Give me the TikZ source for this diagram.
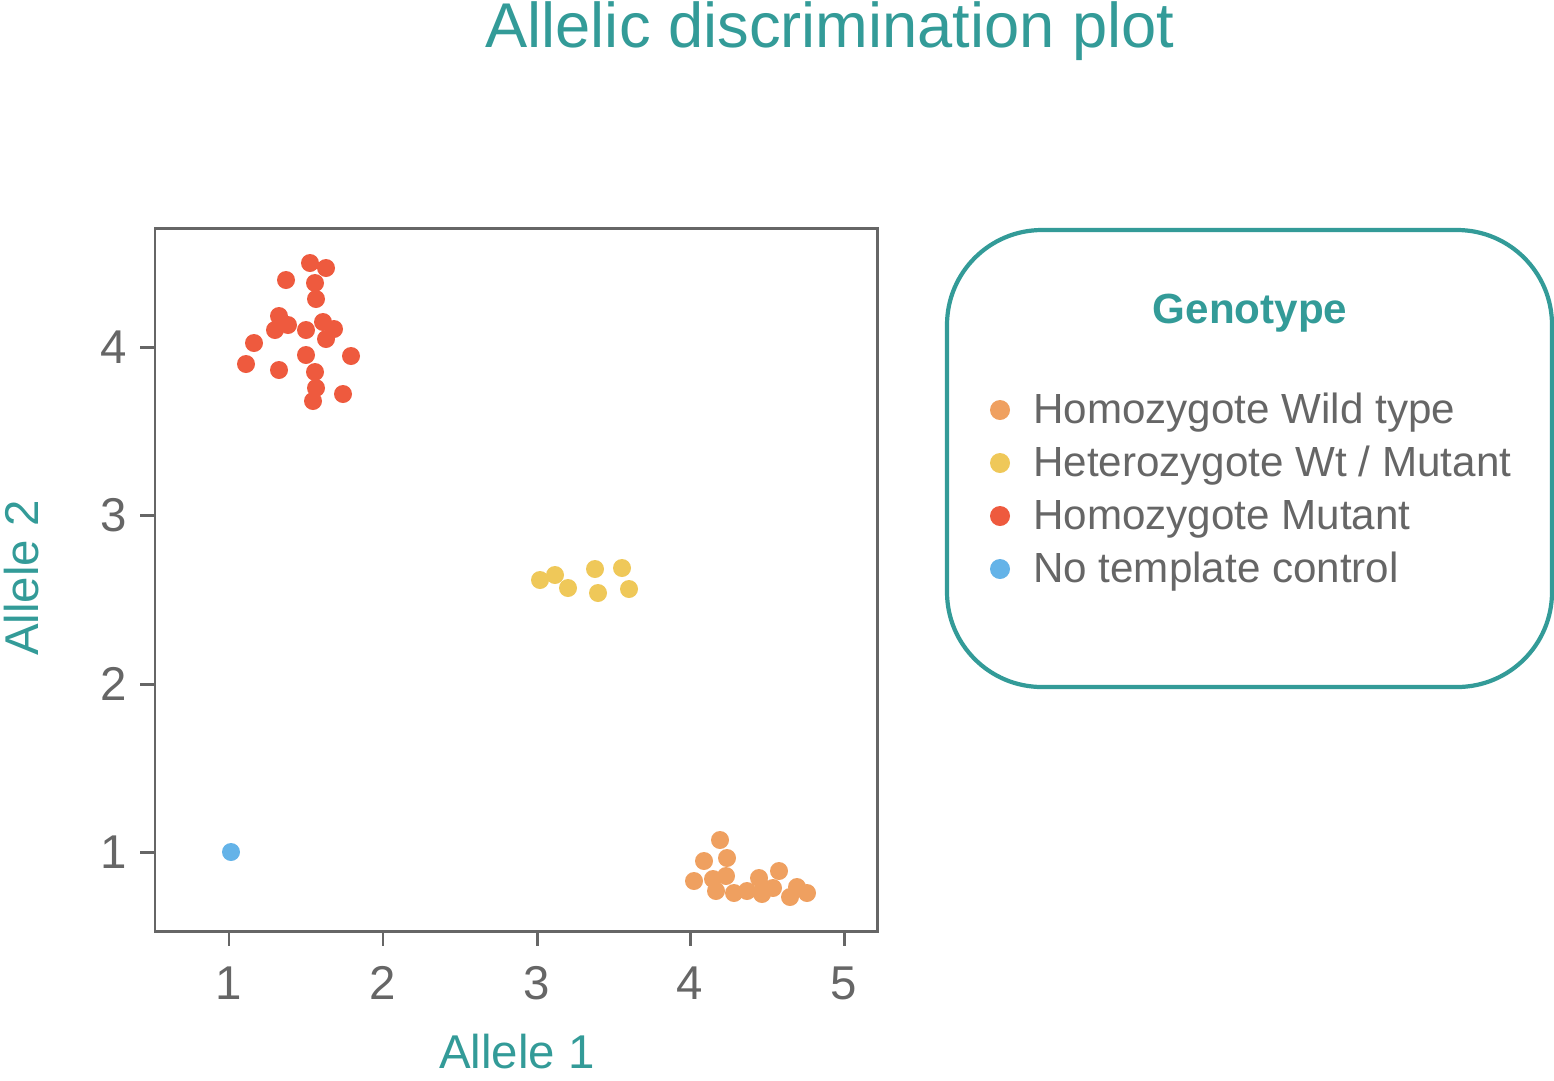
\documentclass[tikz,border=0pt]{standalone}
\usepackage{fontspec}
\setmainfont{Liberation Sans}
\definecolor{teal2}{HTML}{339B98}
\definecolor{gry}{HTML}{666666}
\definecolor{cred}{HTML}{EE5A3E}
\definecolor{cyel}{HTML}{EFC859}
\definecolor{corg}{HTML}{EFA060}
\definecolor{cblu}{HTML}{64B3E8}
\begin{document}
\begin{tikzpicture}[x=0.02cm,y=-0.02cm,
  dot/.style={circle,inner sep=0pt,minimum size=0.36cm},
  tick/.style={gry,line width=1.7pt},
  ticklab/.style={gry,font=\fontsize{27}{30}\selectfont},
  leg/.style={gry,font=\fontsize{24}{27}\selectfont,anchor=west}]
\useasboundingbox (0,0) rectangle (1554,1080);
\node[teal2,font=\fontsize{36}{40}\selectfont] (title) at (830,31) {Allelic discrimination plot};
\draw[gry,line width=1.7pt] (155,228) rectangle (877,931);
\foreach \x/\l in {229/1,383/2,537/3,690/4,844/5}{
  \draw[tick] (\x,931) -- (\x,946);
  \node[ticklab] (xl\l) at (\x,983) {\l};}
\foreach \y/\l in {347/4,515/3,684/2,852/1}{
  \draw[tick] (155,\y) -- (140,\y);
  \node[ticklab,anchor=east] (yl\l) at (133,\y) {\l};}
\node[teal2,font=\fontsize{27}{30}\selectfont] (xlab) at (517,1052) {Allele 1};
\node[teal2,font=\fontsize{27}{30}\selectfont,rotate=90] (ylab) at (22,578) {Allele 2};
\foreach \p in {(310,263),(326,268),(286,280),(315,283),(316,299),(279,316),(288,325),(275,330),(306,330),(323,322),(334,329),(326,339),(254,343),(306,355),(351,356),(246,364),(279,370),(315,372),(316,388),(343,394),(313,401)}
  \node[dot,fill=cred] at \p {};
\foreach \p in {(540,580),(555,575),(568,588),(595,569),(622,568),(598,593),(629,589)}
  \node[dot,fill=cyel] at \p {};
\foreach \p in {(720,840),(704,861),(727,858),(694,881),(713,879),(726,876),(716,891),(734,893),(747,891),(759,878),(779,871),(763,888),(773,888),(762,894),(797,887),(790,897),(807,893)}
  \node[dot,fill=corg] at \p {};
\node[dot,fill=cblu] (ntc) at (231,852) {};
\draw[teal2,line width=2.4pt,rounded corners=1.9cm] (947,230) rectangle (1552,687);
\node[teal2,font=\bfseries\fontsize{24}{27}\selectfont] (gt) at (1250,313) {Genotype};
\foreach \y/\c/\t in {410/corg/{Homozygote Wild type},463/cyel/{Heterozygote Wt / Mutant},516/cred/{Homozygote Mutant},569/cblu/{No template control}}{
  \node[circle,inner sep=0pt,minimum size=0.4cm,fill=\c] at (1000,\y) {};
  \node[leg] at (1027,\y+3) {\t};}
\end{tikzpicture}
\end{document}
